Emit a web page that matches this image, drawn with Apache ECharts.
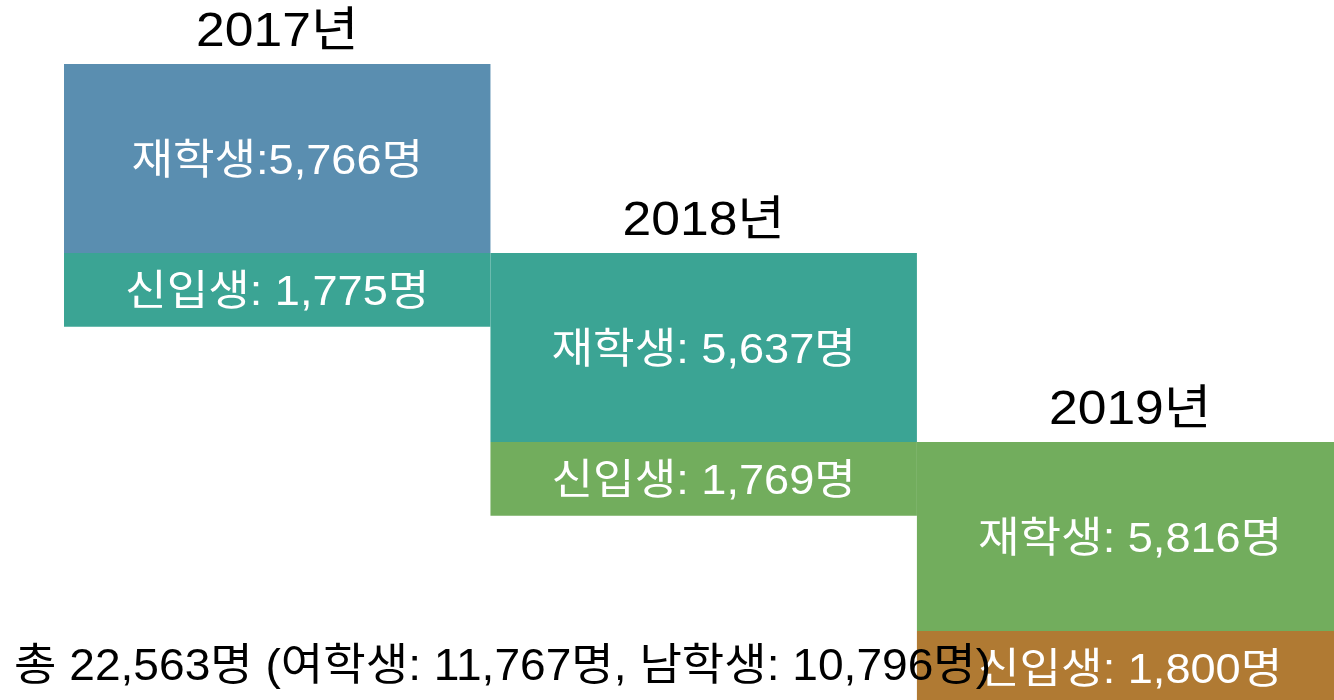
<!DOCTYPE html>
<html>
<head>
<meta charset="utf-8">
<script src="https://cdn.jsdelivr.net/npm/echarts@6/dist/echarts.min.js"></script>
<style>
  html, body { margin: 0; padding: 0; background: #fff; }
  #chart { width: 1334px; height: 700px; }
</style>
</head>
<body>
<div id="chart"></div>
<script>
const years = ["2017년", "2018년", "2019년"];
const enrolled = [5766, 5637, 5816];
const freshmen = [1775, 1769, 1800];
const femaleTotal = 11767;
const maleTotal = 10796;

const palette = ["#5a8eb0", "#3ba494", "#72ad5d", "#b07a33"];
// latin digits from Liberation Sans, hangul falls back to Noto CJK
const FONT = '"Liberation Sans", "Noto Sans CJK KR", sans-serif';
// height of a freshmen strip, in units of one enrolled block
const FRESH_H = 0.39;
// the original font is a bit wider than ours
const WIDEN = 1.075;

const fmt = (n) => n.toLocaleString("en-US");

// x: column index, y: row index (enrolled block = 1 row)
const blocks = [];
years.forEach((year, i) => {
  blocks.push({
    value: [i, i + 1, i, i + 1],
    color: palette[i],
    text: `재학생:${i === 0 ? "" : " "}${fmt(enrolled[i])}명`,
    title: year,
  });
  blocks.push({
    value: [i, i + 1, i + 1, i + 1 + FRESH_H],
    color: palette[i + 1],
    text: `신입생: ${fmt(freshmen[i])}명`,
  });
});

const total = enrolled.concat(freshmen).reduce((a, b) => a + b, 0);

function textEl(text, x, y, size, fill) {
  return {
    type: "text",
    z2: 5,
    x,
    y,
    scaleX: WIDEN,
    style: {
      text,
      x: 0,
      y: 0,
      align: "center",
      verticalAlign: "middle",
      fill,
      fontSize: size,
      fontFamily: FONT,
    },
  };
}

function renderItem(params, api) {
  const item = blocks[params.dataIndex];
  const p0 = api.coord([api.value(0), api.value(2)]);
  const p1 = api.coord([api.value(1), api.value(3)]);
  const cx = (p0[0] + p1[0]) / 2;
  const children = [
    {
      type: "rect",
      shape: { x: p0[0], y: p0[1], width: p1[0] - p0[0], height: p1[1] - p0[1] },
      style: { fill: item.color },
    },
    textEl(item.text, cx, (p0[1] + p1[1]) / 2 + 4, 42, "#fff"),
  ];
  if (item.title) {
    children.push(textEl(item.title, cx, p0[1] - 31, 48, "#000"));
  }
  return { type: "group", children };
}

const chart = echarts.init(document.getElementById("chart"));
chart.setOption({
  animation: false,
  grid: { left: 64, right: 0, top: 64, bottom: 0 },
  xAxis: { type: "value", min: 0, max: 2.978, show: false },
  yAxis: { type: "value", min: 0, max: 3.365, inverse: true, show: false },
  series: [
    {
      type: "custom",
      renderItem,
      clip: false,
      data: blocks.map((b) => b.value),
    },
  ],
  graphic: [
    {
      type: "text",
      x: 14,
      y: 646,
      scaleX: 1.048,
      z: 100,
      style: {
        text: `총 ${fmt(total)}명 (여학생: ${fmt(femaleTotal)}명, 남학생: ${fmt(maleTotal)}명)`,
        fill: "#000",
        fontSize: 44,
        fontFamily: FONT,
      },
    },
  ],
});
</script>
</body>
</html>
